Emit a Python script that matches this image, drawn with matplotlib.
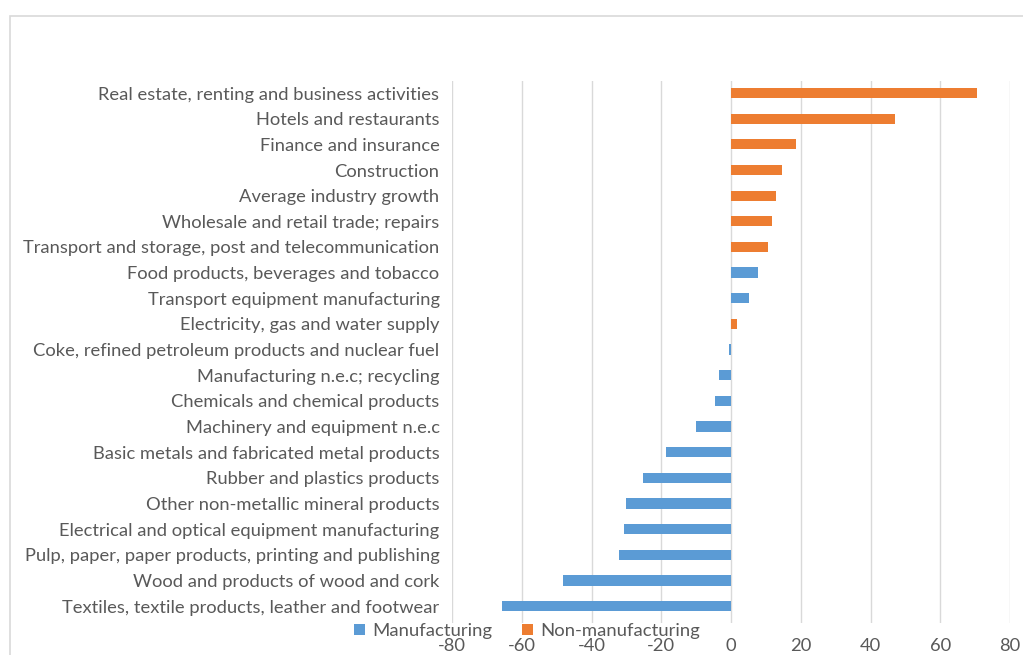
import matplotlib.pyplot as plt
from matplotlib.patches import Rectangle

plt.rcParams['font.family'] = ['Lato', 'DejaVu Sans']
plt.rcParams['axes.unicode_minus'] = False

# industries, top to bottom
industries = [
    "Real estate, renting and business activities",
    "Hotels and restaurants",
    "Finance and insurance",
    "Construction",
    "Average industry growth",
    "Wholesale and retail trade; repairs",
    "Transport and storage, post and telecommunication",
    "Food products, beverages and tobacco",
    "Transport equipment manufacturing",
    "Electricity, gas and water supply",
    "Coke, refined petroleum products and nuclear fuel",
    "Manufacturing n.e.c; recycling",
    "Chemicals and chemical products",
    "Machinery and equipment n.e.c",
    "Basic metals and fabricated metal products",
    "Rubber and plastics products",
    "Other non-metallic mineral products",
    "Electrical and optical equipment manufacturing",
    "Pulp, paper, paper products, printing and publishing",
    "Wood and products of wood and cork",
    "Textiles, textile products, leather and footwear",
]
growth = [70.5, 47, 18.6, 14.7, 12.8, 11.8, 10.7, 7.8, 5.2, 1.8, -0.7,
          -3.5, -4.7, -10, -18.6, -25.3, -30.1, -30.6, -32, -48.2, -65.7]
# True = manufacturing
is_manuf = [False, False, False, False, False, False, False, True, True, False, True,
            True, True, True, True, True, True, True, True, True, True]

xticks = [-80, -60, -40, -20, 0, 20, 40, 60, 80]

blue = '#5B9BD5'
orange = '#ED7D31'
txt = '#595959'

fig = plt.figure(figsize=(10.23, 6.55), dpi=100)
ax = fig.add_axes([452 / 1023, 1 - 623 / 655, 558 / 1023, 542 / 655])

pos = list(range(len(industries)))
man_vals = [v if m else 0 for v, m in zip(growth, is_manuf)]
non_vals = [0 if m else v for v, m in zip(growth, is_manuf)]
ax.barh(pos, man_vals, height=0.4, color=blue, label='Manufacturing', zorder=3)
ax.barh(pos, non_vals, height=0.4, color=orange, label='Non-manufacturing', zorder=3)

ax.set_xlim(-80, 80)
ax.set_ylim(20.66, -0.47)
ax.set_xticks(xticks)
ax.set_yticks(pos)
ax.set_yticklabels(industries)
ax.xaxis.grid(True, color='#D9D9D9', lw=1, zorder=0)
for s in ax.spines.values():
    s.set_visible(False)
ax.tick_params(axis='y', length=0, pad=9, labelsize=13.2, labelcolor=txt)
ax.tick_params(axis='x', length=0, pad=11, labelsize=13.2, labelcolor=txt)

leg = fig.legend(loc='center', bbox_to_anchor=(527 / 1023, 1 - 631 / 655), ncol=2,
                 frameon=False, fontsize=13.3, handlelength=0.6, handleheight=0.6,
                 handletextpad=0.4, columnspacing=1.6, borderpad=0)
for t in leg.get_texts():
    t.set_color(txt)

# chart area frame
fig.patches.append(Rectangle((10 / 1023, -0.1), 1.2, 1.1 - 16 / 655,
                             transform=fig.transFigure, fill=False,
                             edgecolor='#D9D9D9', lw=1.2, zorder=0))

fig.savefig('out.png', dpi=100)
